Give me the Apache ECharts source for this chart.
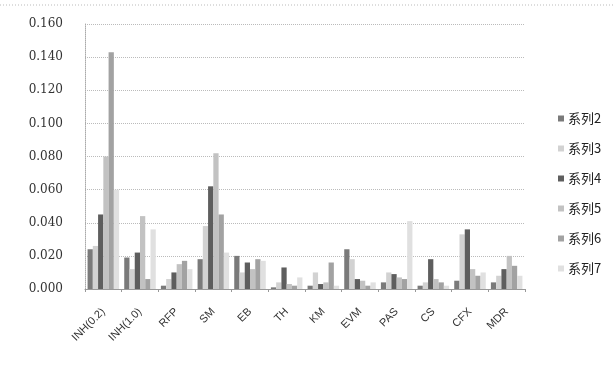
<!DOCTYPE html>
<html>
<head>
<meta charset="utf-8">
<script src="https://cdn.jsdelivr.net/npm/echarts@6/dist/echarts.min.js"></script>
<style>
  html, body { margin: 0; padding: 0; background: #fff; }
  #chart { width: 614px; height: 378px; }
</style>
</head>
<body>
<div id="chart"></div>
<script>
const categories = ["INH(0.2)", "INH(1.0)", "RFP", "SM", "EB", "TH", "KM", "EVM", "PAS", "CS", "CFX", "MDR"];
const seriesNames = ["系列2", "系列3", "系列4", "系列5", "系列6", "系列7"];

// values, one array per series (category order above)
const s2 = [0.024, 0.019, 0.002, 0.018, 0.020, 0.001, 0.002, 0.024, 0.004, 0.002, 0.005, 0.004];
const s3 = [0.026, 0.012, 0.006, 0.038, 0.010, 0.004, 0.010, 0.018, 0.010, 0.004, 0.033, 0.008];
const s4 = [0.045, 0.022, 0.010, 0.062, 0.016, 0.013, 0.003, 0.006, 0.009, 0.018, 0.036, 0.012];
const s5 = [0.080, 0.044, 0.015, 0.082, 0.012, 0.003, 0.004, 0.005, 0.007, 0.006, 0.012, 0.020];
const s6 = [0.143, 0.006, 0.017, 0.045, 0.018, 0.002, 0.016, 0.002, 0.006, 0.004, 0.008, 0.014];
const s7 = [0.060, 0.036, 0.012, 0.022, 0.017, 0.007, 0.002, 0.004, 0.041, 0.002, 0.010, 0.008];
const seriesValues = [s2, s3, s4, s5, s6, s7];

const yTicks = [0, 0.02, 0.04, 0.06, 0.08, 0.1, 0.12, 0.14, 0.16];

const colors = ["#7a7a7a", "#d2d2d2", "#5e5e5e", "#c2c2c2", "#a2a2a2", "#e0e0e0"];

const chart = echarts.init(document.getElementById("chart"));

const option = {
  animation: false,
  color: colors,
  graphic: [{
    type: "line",
    shape: { x1: 0, y1: 5, x2: 614, y2: 5 },
    style: { stroke: "#bbb", lineWidth: 1, lineDash: [1, 2] }
  }],
  legend: {
    orient: "vertical",
    left: 553,
    top: 107,
    itemWidth: 6,
    itemHeight: 6,
    itemGap: 17,
    icon: "rect",
    textStyle: {
      fontFamily: "'Noto Sans CJK SC', sans-serif",
      fontSize: 13,
      color: "#222",
      padding: [0, 0, 0, -1]
    },
    data: seriesNames
  },
  grid: {
    left: 85,
    right: 89,
    top: 24,
    bottom: 89
  },
  xAxis: {
    type: "category",
    data: categories,
    axisLine: { lineStyle: { color: "#999", width: 1 } },
    axisTick: { show: true, length: 3, lineStyle: { color: "#999" } },
    axisLabel: {
      rotate: 45,
      interval: 0,
      margin: 21,
      fontFamily: "'Liberation Sans', sans-serif",
      fontSize: 11,
      color: "#333"
    }
  },
  yAxis: {
    type: "value",
    min: 0,
    max: yTicks[yTicks.length - 1],
    interval: 0.02,
    axisLine: { show: true, lineStyle: { color: "#aaa", type: "dotted" } },
    axisTick: { show: false },
    axisLabel: {
      margin: 22,
      fontFamily: "'DejaVu Serif', serif",
      fontSize: 12,
      color: "#333",
      formatter: (v) => v.toFixed(3)
    },
    splitLine: { lineStyle: { color: "#bbb", type: "dotted" } }
  },
  series: seriesNames.map((name, i) => ({
    name: name,
    type: "bar",
    data: seriesValues[i],
    barGap: "0%",
    barCategoryGap: "14%",
    itemStyle: { color: colors[i] }
  }))
};

chart.setOption(option);
</script>
</body>
</html>
